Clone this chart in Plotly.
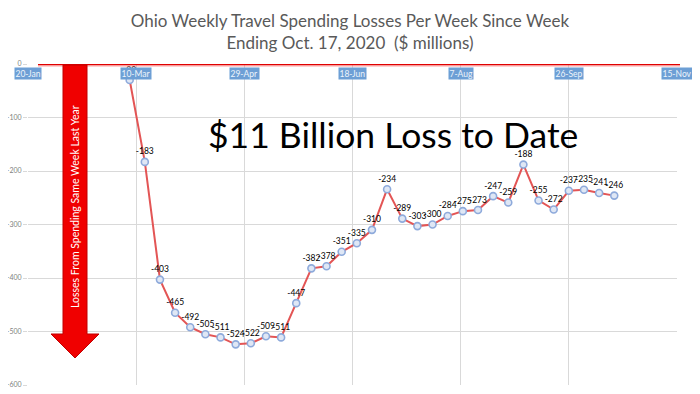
import plotly.graph_objects as go
import pandas as pd

# ---- data ----
week_ending = pd.date_range("2020-03-07", "2020-10-17", freq="7D")
losses = [-30, -183, -403, -465, -492, -505, -511, -524, -522, -509, -511,
          -447, -382, -378, -351, -335, -310, -234, -289, -303, -300, -284,
          -275, -273, -247, -259, -188, -255, -272, -237, -235, -241, -246]
x_tick_dates = pd.date_range("2020-01-20", "2020-11-15", freq="50D")
x_tick_labels = ["20-Jan", "10-Mar", "29-Apr", "18-Jun", "7-Aug", "26-Sep", "15-Nov"]
y_tick_vals = [0, -100, -200, -300, -400, -500, -600]
y_tick_labels = ["0", "-100", "-200", "-300", "-400", "-500", "-600"]

title_text = "Ohio Weekly Travel Spending Losses Per Week Since Week<br>Ending Oct. 17, 2020  ($ millions)"
big_text = "$11 Billion Loss to Date"
arrow_text = "Losses From Spending Same Week Last Year"

FONT = "Lato"
OFF = 8  # page body margin
W, H = 700 - OFF, 394 - OFF
# plot area in window pixels: x 28..677, y 64..385
ML, MT = 28 - OFF, 64 - OFF
MR, MB = W - (677 - OFF), H - (385 - OFF)
PW, PH = 649, 321


def px(x):
    return (x - 28) / PW


def py(y):
    return 1 - (y - 64) / PH


fig = go.Figure()
fig.add_trace(go.Scatter(
    x=week_ending, y=losses,
    mode="lines+markers+text",
    line=dict(color="#e35555", width=2),
    marker=dict(symbol="circle", size=7, color="#dfe7f5",
                line=dict(color="#8eaadb", width=1.6)),
    text=[str(v) for v in losses],
    textposition="top center",
    textfont=dict(family=FONT, size=8.5, color="#000000"),
    cliponaxis=False,
    showlegend=False,
))

shapes = []
# red zero line
shapes.append(dict(type="line", xref="paper", yref="y", x0=px(38), x1=px(680), y0=0, y1=0,
                   line=dict(color="rgba(255,120,120,0.35)", width=6), layer="above"))
shapes.append(dict(type="line", xref="paper", yref="y", x0=px(38), x1=px(680), y0=0, y1=0,
                   line=dict(color="#e00000", width=2.5), layer="above"))
# big arrow
path = (f"M {px(63)},{py(65)} L {px(87)},{py(65)} L {px(87)},{py(334)} "
        f"L {px(99)},{py(334)} L {px(75)},{py(358)} L {px(51)},{py(334)} "
        f"L {px(63)},{py(334)} Z")
shapes.append(dict(type="path", xref="paper", yref="paper", path=path,
                   fillcolor="#f00000", line=dict(color="#c00000", width=1), layer="above"))

annotations = []
for d, lab in zip(x_tick_dates, x_tick_labels):
    annotations.append(dict(x=d, y=py(73), xref="x", yref="paper", text=lab,
                            xanchor="center", yanchor="middle",
                            showarrow=False, bgcolor="#6d9fd5",
                            font=dict(family=FONT, size=8.5, color="#eef4fb"),
                            borderpad=0.5))
annotations.append(dict(x=px(75), y=py(207), xref="paper", yref="paper", text=arrow_text,
                        xanchor="center", yanchor="middle",
                        textangle=-90, showarrow=False,
                        font=dict(family=FONT, size=10.5, color="white")))
annotations.append(dict(x=px(393), y=py(134), xref="paper", yref="paper", text=big_text,
                        xanchor="center", yanchor="middle",
                        showarrow=False, font=dict(family=FONT, size=35.5, color="#000000")))

fig.update_layout(
    width=W, height=H,
    margin=dict(l=ML, r=MR, t=MT, b=MB, autoexpand=False),
    paper_bgcolor="white", plot_bgcolor="white",
    title=dict(text=title_text, x=(350 - OFF) / W, xanchor="center",
               y=1 - 18.7 / H, yanchor="top",
               font=dict(family=FONT, size=17, color="#595959")),
    shapes=shapes, annotations=annotations,
    xaxis=dict(type="date", range=["2020-01-20", "2020-11-15"],
               tickvals=x_tick_dates, showticklabels=False, automargin=False,
               showgrid=True, gridcolor="#d9d9d9", gridwidth=1,
               zeroline=False, showline=False),
    yaxis=dict(range=[-600, 0], tickvals=y_tick_vals, ticktext=y_tick_labels,
               tickfont=dict(family=FONT, size=7, color="#7f7f7f"), automargin=False,
               showgrid=True, gridcolor="#d9d9d9", gridwidth=1,
               ticks="outside", ticklen=4, tickcolor="#d9d9d9",
               zeroline=False, showline=False),
)

fig.write_html("out.html")
